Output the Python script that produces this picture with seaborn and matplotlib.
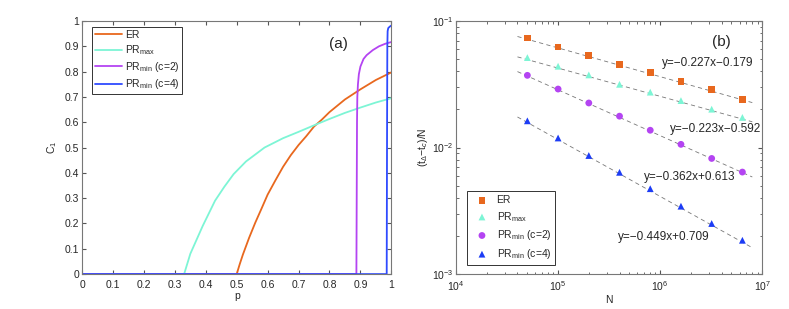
import numpy as np
import pandas as pd
import matplotlib
matplotlib.use("Agg")
import matplotlib.pyplot as plt
import seaborn as sns

# (a) C1 against p
p_er = [0, 0.5, 0.51, 0.52, 0.54, 0.56, 0.58, 0.6, 0.625, 0.65, 0.675, 0.7,
        0.725, 0.75, 0.775, 0.8, 0.85, 0.9, 0.95, 1.0]
c1_er = [0, 0, 0.04, 0.077, 0.143, 0.203, 0.258, 0.314, 0.37, 0.424, 0.47, 0.51,
         0.545, 0.583, 0.61, 0.64, 0.69, 0.73, 0.767, 0.797]
p_max = [0, 0.33, 0.34, 0.35, 0.37, 0.39, 0.41, 0.43, 0.46, 0.49, 0.53, 0.59,
         0.65, 0.7, 0.76, 0.8, 0.85, 0.9, 0.95, 1.0]
c1_max = [0, 0, 0.04, 0.08, 0.135, 0.19, 0.24, 0.29, 0.345, 0.395, 0.445, 0.5,
          0.537, 0.562, 0.593, 0.613, 0.637, 0.658, 0.678, 0.695]
p_min2 = [0, 0.887, 0.888, 0.889, 0.89, 0.892, 0.895, 0.9, 0.91, 0.92, 0.94,
          0.96, 0.98, 1.0]
c1_min2 = [0, 0, 0.3, 0.6, 0.7, 0.75, 0.79, 0.82, 0.85, 0.865, 0.885, 0.9,
           0.91, 0.917]
p_min4 = [0, 0.985, 0.986, 0.987, 0.988, 0.99, 0.995, 1.0]
c1_min4 = [0, 0, 0.5, 0.9, 0.96, 0.972, 0.978, 0.982]

# (b) (t_delta - t_c)/N against N
N = [5e4, 1e5, 2e5, 4e5, 8e5, 1.6e6, 3.2e6, 6.4e6]
t_er = [0.0734, 0.0624, 0.053, 0.0452, 0.0389, 0.0334, 0.0287, 0.0241]
t_max = [0.0514, 0.0439, 0.0375, 0.0316, 0.0274, 0.0235, 0.0201, 0.0173]
t_min2 = [0.0372, 0.0290, 0.0225, 0.0177, 0.0137, 0.0106, 0.0082, 0.0064]
t_min4 = [0.01626, 0.0119, 0.00865, 0.00637, 0.00473, 0.00344, 0.00251, 0.00185]
# fitted lines ln y = a ln N + b, as printed on the chart
fit_a = [-0.227, -0.223, -0.362, -0.449]
fit_b = [-0.179, -0.592, 0.613, 0.709]
fit_text = ["y=−0.227x−0.179", "y=−0.223x−0.592", "y=−0.362x+0.613", "y=−0.449x+0.709"]
fit_pos = [(1.04e6, 0.047), (1.26e6, 0.0139), (6.9e5, 0.0059), (3.9e5, 0.00196)]

labels = ["ER", "PR$_{\\mathrm{max}}$", "PR$_{\\mathrm{min}}$ (c=2)", "PR$_{\\mathrm{min}}$ (c=4)"]
colors = ["#E8681E", "#7DF5D5", "#B444F2", "#2F4BFF"]
mk_colors = ["#E8681E", "#7DF5D5", "#B444F2", "#1C3CF5"]
markers = ["s", "^", "o", "^"]

sns.set_style("ticks")
plt.rcParams["font.family"] = ["Liberation Sans", "DejaVu Sans"]
plt.rcParams["mathtext.fontset"] = "custom"
plt.rcParams["mathtext.rm"] = "Liberation Sans"
plt.rcParams["mathtext.it"] = "Liberation Sans:italic"
plt.rcParams["mathtext.bf"] = "Liberation Sans:bold"

fig = plt.figure(figsize=(7.89, 3.09), dpi=100)
ax1 = fig.add_axes([0.104, 0.113, 0.392, 0.819])
ax2 = fig.add_axes([0.578, 0.113, 0.388, 0.819])

curves = [(p_er, c1_er), (p_max, c1_max), (p_min2, c1_min2), (p_min4, c1_min4)]
for (px, cy), lab, col in zip(curves, labels, colors):
    sns.lineplot(x=px, y=cy, ax=ax1, color=col, lw=1.3, label=lab, sort=False)
ax1.set_xlim(0, 1)
ax1.set_ylim(0, 1)
ax1.set_xticks(np.arange(0, 1.01, 0.1))
ax1.set_yticks(np.arange(0, 1.01, 0.1))
ax1.set_xticklabels(["0", "0.1", "0.2", "0.3", "0.4", "0.5", "0.6", "0.7", "0.8", "0.9", "1"])
ax1.set_yticklabels(["0", "0.1", "0.2", "0.3", "0.4", "0.5", "0.6", "0.7", "0.8", "0.9", "1"])
ax1.set_xlabel("p", fontsize=7.5, labelpad=1)
ax1.set_ylabel("C$_1$", fontsize=7.5, labelpad=4)
ax1.text(0.83, 0.91, "(a)", fontsize=11, ha="center", va="center")
leg1 = ax1.legend(loc="upper left", fontsize=7.5, frameon=True, fancybox=False,
                  edgecolor="#333333", framealpha=1, handlelength=2.6,
                  handletextpad=0.3, borderpad=0.25, labelspacing=0.3,
                  bbox_to_anchor=(0.015, 0.995))
leg1.get_frame().set_linewidth(0.7)

sets = [t_er, t_max, t_min2, t_min4]
n_line = np.array([4e4, 8e6])
for i, ty in enumerate(sets):
    sns.scatterplot(x=N, y=ty, ax=ax2, marker=markers[i], color=mk_colors[i],
                    s=24, edgecolor="none", label=labels[i], zorder=3)
    fit_y = np.exp(fit_a[i] * np.log(n_line) + fit_b[i])
    ax2.plot(n_line, fit_y, ls=(0, (5, 4)), color="#777777", lw=0.6, zorder=2)
    ax2.text(fit_pos[i][0], fit_pos[i][1], fit_text[i], fontsize=8.5,
             ha="left", va="center")
ax2.set_xscale("log")
ax2.set_yscale("log")
ax2.set_xlim(1e4, 1e7)
ax2.set_ylim(1e-3, 1e-1)
ax2.set_xlabel("N", fontsize=7.5, labelpad=1)
ax2.set_ylabel("(t$_{\\Delta}$−t$_c$)/N", fontsize=7.5, labelpad=1)
ax2.text(4e6, 0.068, "(b)", fontsize=11, ha="center", va="center")
leg2 = ax2.legend(loc="lower left", fontsize=7.5, frameon=True, fancybox=False,
                  edgecolor="#333333", framealpha=1, handletextpad=0.4,
                  borderpad=0.4, labelspacing=0.45, markerscale=1.0,
                  bbox_to_anchor=(0.02, 0.015))
leg2.get_frame().set_linewidth(0.7)

for ax in (ax1, ax2):
    ax.tick_params(which="both", direction="in", top=True, right=True,
                   labelsize=7.5, color="#555555", pad=2)
    ax.tick_params(axis="x", which="both", pad=4)
    ax.tick_params(which="major", length=3)
    ax.tick_params(which="minor", length=1.8)
    for s in ax.spines.values():
        s.set_color("#777777")
        s.set_linewidth(0.8)

fig.savefig("out.png", dpi=100)
